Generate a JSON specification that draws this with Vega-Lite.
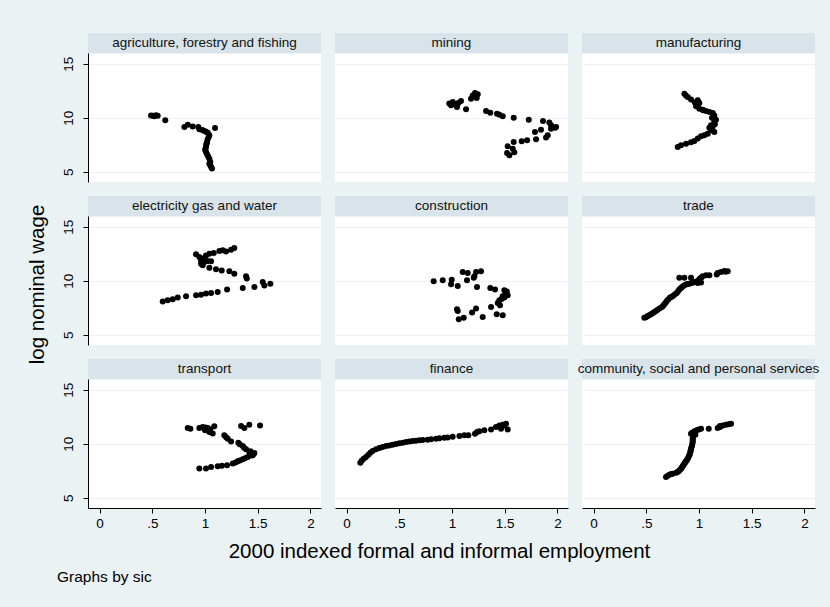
{
  "$schema": "https://vega.github.io/schema/vega-lite/v6.json",
  "background": "#EAF2F3",
  "padding": {"left": 27, "top": 33, "right": 10, "bottom": 22},
  "config": {
    "font": "Liberation Sans",
    "view": {"stroke": null, "fill": "white"},
    "axis": {"domainColor": "black", "tickColor": "black", "tickSize": 5, "labelFontSize": 13.5, "labelColor": "black", "titleFontSize": 20.5, "titleFontWeight": "normal", "titleColor": "black", "gridColor": "#EAF2F3", "gridWidth": 1},
    "axisX": {"grid": false, "labelPadding": 3, "titlePadding": 12},
    "axisY": {"labelAngle": 270, "labelPadding": 8, "titlePadding": 14}
  },
  "title": {"text": "Graphs by sic", "orient": "bottom", "anchor": "start", "fontSize": 15.5, "fontWeight": "normal", "color": "black", "offset": 8, "dx": 30},
  "data": {"values": [
    {"sic":"agriculture, forestry and fishing","emp":0.488,"lw":10.21},
    {"sic":"agriculture, forestry and fishing","emp":0.505,"lw":10.18},
    {"sic":"agriculture, forestry and fishing","emp":0.519,"lw":10.12},
    {"sic":"agriculture, forestry and fishing","emp":0.535,"lw":10.22},
    {"sic":"agriculture, forestry and fishing","emp":0.551,"lw":10.17},
    {"sic":"agriculture, forestry and fishing","emp":0.623,"lw":9.75},
    {"sic":"agriculture, forestry and fishing","emp":0.804,"lw":9.13},
    {"sic":"agriculture, forestry and fishing","emp":0.836,"lw":9.35},
    {"sic":"agriculture, forestry and fishing","emp":0.883,"lw":9.19},
    {"sic":"agriculture, forestry and fishing","emp":0.936,"lw":9.13},
    {"sic":"agriculture, forestry and fishing","emp":0.946,"lw":8.92},
    {"sic":"agriculture, forestry and fishing","emp":0.975,"lw":8.85},
    {"sic":"agriculture, forestry and fishing","emp":0.993,"lw":8.76},
    {"sic":"agriculture, forestry and fishing","emp":1.010,"lw":8.70},
    {"sic":"agriculture, forestry and fishing","emp":1.026,"lw":8.61},
    {"sic":"agriculture, forestry and fishing","emp":1.041,"lw":8.36},
    {"sic":"agriculture, forestry and fishing","emp":1.095,"lw":9.04},
    {"sic":"agriculture, forestry and fishing","emp":1.035,"lw":8.20},
    {"sic":"agriculture, forestry and fishing","emp":1.025,"lw":8.00},
    {"sic":"agriculture, forestry and fishing","emp":1.019,"lw":7.74},
    {"sic":"agriculture, forestry and fishing","emp":1.015,"lw":7.60},
    {"sic":"agriculture, forestry and fishing","emp":1.012,"lw":7.50},
    {"sic":"agriculture, forestry and fishing","emp":1.009,"lw":7.28},
    {"sic":"agriculture, forestry and fishing","emp":1.003,"lw":7.10},
    {"sic":"agriculture, forestry and fishing","emp":1.003,"lw":6.97},
    {"sic":"agriculture, forestry and fishing","emp":1.010,"lw":6.80},
    {"sic":"agriculture, forestry and fishing","emp":1.019,"lw":6.60},
    {"sic":"agriculture, forestry and fishing","emp":1.030,"lw":6.40},
    {"sic":"agriculture, forestry and fishing","emp":1.041,"lw":6.20},
    {"sic":"agriculture, forestry and fishing","emp":1.050,"lw":5.89},
    {"sic":"agriculture, forestry and fishing","emp":1.041,"lw":5.74},
    {"sic":"agriculture, forestry and fishing","emp":1.050,"lw":5.60},
    {"sic":"agriculture, forestry and fishing","emp":1.057,"lw":5.43},
    {"sic":"agriculture, forestry and fishing","emp":1.066,"lw":5.28},

    {"sic":"mining","emp":0.974,"lw":11.30},
    {"sic":"mining","emp":0.991,"lw":11.14},
    {"sic":"mining","emp":1.007,"lw":11.44},
    {"sic":"mining","emp":1.028,"lw":11.23},
    {"sic":"mining","emp":1.047,"lw":10.98},
    {"sic":"mining","emp":1.060,"lw":11.35},
    {"sic":"mining","emp":1.085,"lw":11.54},
    {"sic":"mining","emp":1.133,"lw":10.77},
    {"sic":"mining","emp":1.180,"lw":11.76},
    {"sic":"mining","emp":1.196,"lw":12.06},
    {"sic":"mining","emp":1.218,"lw":12.28},
    {"sic":"mining","emp":1.244,"lw":12.16},
    {"sic":"mining","emp":1.234,"lw":11.81},
    {"sic":"mining","emp":1.323,"lw":10.61},
    {"sic":"mining","emp":1.363,"lw":10.46},
    {"sic":"mining","emp":1.427,"lw":10.37},
    {"sic":"mining","emp":1.449,"lw":10.28},
    {"sic":"mining","emp":1.481,"lw":10.12},
    {"sic":"mining","emp":1.585,"lw":10.00},
    {"sic":"mining","emp":1.728,"lw":9.81},
    {"sic":"mining","emp":1.863,"lw":9.69},
    {"sic":"mining","emp":1.923,"lw":9.54},
    {"sic":"mining","emp":1.939,"lw":9.29},
    {"sic":"mining","emp":1.987,"lw":9.13},
    {"sic":"mining","emp":1.977,"lw":9.07},
    {"sic":"mining","emp":1.939,"lw":8.98},
    {"sic":"mining","emp":1.844,"lw":8.89},
    {"sic":"mining","emp":1.787,"lw":8.67},
    {"sic":"mining","emp":1.908,"lw":8.36},
    {"sic":"mining","emp":1.892,"lw":8.15},
    {"sic":"mining","emp":1.797,"lw":7.99},
    {"sic":"mining","emp":1.712,"lw":7.90},
    {"sic":"mining","emp":1.661,"lw":7.81},
    {"sic":"mining","emp":1.585,"lw":7.74},
    {"sic":"mining","emp":1.528,"lw":7.34},
    {"sic":"mining","emp":1.576,"lw":7.13},
    {"sic":"mining","emp":1.591,"lw":6.79},
    {"sic":"mining","emp":1.544,"lw":6.51},
    {"sic":"mining","emp":1.522,"lw":6.72},

    {"sic":"manufacturing","emp":0.861,"lw":12.22},
    {"sic":"manufacturing","emp":0.875,"lw":12.05},
    {"sic":"manufacturing","emp":0.893,"lw":11.91},
    {"sic":"manufacturing","emp":0.924,"lw":11.69},
    {"sic":"manufacturing","emp":0.988,"lw":11.60},
    {"sic":"manufacturing","emp":0.960,"lw":11.40},
    {"sic":"manufacturing","emp":1.003,"lw":11.35},
    {"sic":"manufacturing","emp":0.972,"lw":11.05},
    {"sic":"manufacturing","emp":1.003,"lw":10.83},
    {"sic":"manufacturing","emp":1.035,"lw":10.74},
    {"sic":"manufacturing","emp":1.040,"lw":10.68},
    {"sic":"manufacturing","emp":1.066,"lw":10.61},
    {"sic":"manufacturing","emp":1.098,"lw":10.52},
    {"sic":"manufacturing","emp":1.130,"lw":10.43},
    {"sic":"manufacturing","emp":1.145,"lw":10.21},
    {"sic":"manufacturing","emp":1.123,"lw":10.00},
    {"sic":"manufacturing","emp":1.140,"lw":9.95},
    {"sic":"manufacturing","emp":1.161,"lw":9.81},
    {"sic":"manufacturing","emp":1.145,"lw":9.59},
    {"sic":"manufacturing","emp":1.150,"lw":9.40},
    {"sic":"manufacturing","emp":1.114,"lw":9.29},
    {"sic":"manufacturing","emp":1.130,"lw":9.20},
    {"sic":"manufacturing","emp":1.098,"lw":9.07},
    {"sic":"manufacturing","emp":1.110,"lw":8.95},
    {"sic":"manufacturing","emp":1.130,"lw":8.82},
    {"sic":"manufacturing","emp":1.145,"lw":8.67},
    {"sic":"manufacturing","emp":1.083,"lw":8.52},
    {"sic":"manufacturing","emp":1.050,"lw":8.36},
    {"sic":"manufacturing","emp":1.019,"lw":8.27},
    {"sic":"manufacturing","emp":0.988,"lw":8.06},
    {"sic":"manufacturing","emp":0.955,"lw":7.83},
    {"sic":"manufacturing","emp":0.924,"lw":7.71},
    {"sic":"manufacturing","emp":0.877,"lw":7.59},
    {"sic":"manufacturing","emp":0.829,"lw":7.44},
    {"sic":"manufacturing","emp":0.798,"lw":7.28},

    {"sic":"electricity gas and water","emp":0.915,"lw":12.44},
    {"sic":"electricity gas and water","emp":0.946,"lw":12.19},
    {"sic":"electricity gas and water","emp":0.962,"lw":11.88},
    {"sic":"electricity gas and water","emp":0.978,"lw":12.04},
    {"sic":"electricity gas and water","emp":1.009,"lw":12.34},
    {"sic":"electricity gas and water","emp":1.041,"lw":12.50},
    {"sic":"electricity gas and water","emp":1.083,"lw":12.56},
    {"sic":"electricity gas and water","emp":1.136,"lw":12.74},
    {"sic":"electricity gas and water","emp":1.168,"lw":12.81},
    {"sic":"electricity gas and water","emp":1.199,"lw":12.71},
    {"sic":"electricity gas and water","emp":1.247,"lw":12.87},
    {"sic":"electricity gas and water","emp":1.278,"lw":13.02},
    {"sic":"electricity gas and water","emp":0.962,"lw":11.57},
    {"sic":"electricity gas and water","emp":0.993,"lw":11.72},
    {"sic":"electricity gas and water","emp":1.026,"lw":11.81},
    {"sic":"electricity gas and water","emp":1.057,"lw":11.79},
    {"sic":"electricity gas and water","emp":0.978,"lw":11.42},
    {"sic":"electricity gas and water","emp":1.041,"lw":11.20},
    {"sic":"electricity gas and water","emp":1.104,"lw":11.05},
    {"sic":"electricity gas and water","emp":1.158,"lw":10.95},
    {"sic":"electricity gas and water","emp":1.231,"lw":10.86},
    {"sic":"electricity gas and water","emp":1.278,"lw":10.65},
    {"sic":"electricity gas and water","emp":1.389,"lw":10.40},
    {"sic":"electricity gas and water","emp":1.396,"lw":10.19},
    {"sic":"electricity gas and water","emp":1.468,"lw":9.41},
    {"sic":"electricity gas and water","emp":1.547,"lw":9.87},
    {"sic":"electricity gas and water","emp":1.563,"lw":9.56},
    {"sic":"electricity gas and water","emp":1.620,"lw":9.72},
    {"sic":"electricity gas and water","emp":1.358,"lw":9.31},
    {"sic":"electricity gas and water","emp":1.209,"lw":9.17},
    {"sic":"electricity gas and water","emp":1.120,"lw":8.94},
    {"sic":"electricity gas and water","emp":1.057,"lw":8.85},
    {"sic":"electricity gas and water","emp":1.009,"lw":8.80},
    {"sic":"electricity gas and water","emp":0.962,"lw":8.70},
    {"sic":"electricity gas and water","emp":0.915,"lw":8.64},
    {"sic":"electricity gas and water","emp":0.820,"lw":8.55},
    {"sic":"electricity gas and water","emp":0.741,"lw":8.43},
    {"sic":"electricity gas and water","emp":0.694,"lw":8.27},
    {"sic":"electricity gas and water","emp":0.646,"lw":8.18},
    {"sic":"electricity gas and water","emp":0.599,"lw":8.08},

    {"sic":"construction","emp":0.826,"lw":9.94},
    {"sic":"construction","emp":0.912,"lw":10.03},
    {"sic":"construction","emp":0.997,"lw":10.09},
    {"sic":"construction","emp":0.991,"lw":9.66},
    {"sic":"construction","emp":1.054,"lw":9.50},
    {"sic":"construction","emp":1.101,"lw":10.80},
    {"sic":"construction","emp":1.149,"lw":10.70},
    {"sic":"construction","emp":1.142,"lw":10.03},
    {"sic":"construction","emp":1.212,"lw":10.40},
    {"sic":"construction","emp":1.228,"lw":10.80},
    {"sic":"construction","emp":1.275,"lw":10.86},
    {"sic":"construction","emp":1.206,"lw":10.28},
    {"sic":"construction","emp":1.237,"lw":9.41},
    {"sic":"construction","emp":1.363,"lw":9.31},
    {"sic":"construction","emp":1.408,"lw":9.19},
    {"sic":"construction","emp":1.496,"lw":9.10},
    {"sic":"construction","emp":1.510,"lw":8.85},
    {"sic":"construction","emp":1.520,"lw":9.00},
    {"sic":"construction","emp":1.528,"lw":8.64},
    {"sic":"construction","emp":1.480,"lw":8.55},
    {"sic":"construction","emp":1.496,"lw":8.43},
    {"sic":"construction","emp":1.470,"lw":8.30},
    {"sic":"construction","emp":1.449,"lw":8.18},
    {"sic":"construction","emp":1.434,"lw":7.93},
    {"sic":"construction","emp":1.455,"lw":7.71},
    {"sic":"construction","emp":1.370,"lw":7.56},
    {"sic":"construction","emp":1.424,"lw":6.88},
    {"sic":"construction","emp":1.481,"lw":6.79},
    {"sic":"construction","emp":1.291,"lw":6.63},
    {"sic":"construction","emp":1.228,"lw":7.41},
    {"sic":"construction","emp":1.190,"lw":7.06},
    {"sic":"construction","emp":1.111,"lw":6.57},
    {"sic":"construction","emp":1.064,"lw":6.42},
    {"sic":"construction","emp":1.047,"lw":7.34},
    {"sic":"construction","emp":1.054,"lw":7.19},

    {"sic":"trade","emp":0.481,"lw":6.57},
    {"sic":"trade","emp":0.497,"lw":6.62},
    {"sic":"trade","emp":0.513,"lw":6.72},
    {"sic":"trade","emp":0.528,"lw":6.80},
    {"sic":"trade","emp":0.544,"lw":6.88},
    {"sic":"trade","emp":0.560,"lw":6.98},
    {"sic":"trade","emp":0.576,"lw":7.09},
    {"sic":"trade","emp":0.592,"lw":7.20},
    {"sic":"trade","emp":0.608,"lw":7.31},
    {"sic":"trade","emp":0.628,"lw":7.44},
    {"sic":"trade","emp":0.649,"lw":7.56},
    {"sic":"trade","emp":0.660,"lw":7.68},
    {"sic":"trade","emp":0.671,"lw":7.81},
    {"sic":"trade","emp":0.683,"lw":7.96},
    {"sic":"trade","emp":0.694,"lw":8.11},
    {"sic":"trade","emp":0.710,"lw":8.27},
    {"sic":"trade","emp":0.726,"lw":8.43},
    {"sic":"trade","emp":0.741,"lw":8.52},
    {"sic":"trade","emp":0.756,"lw":8.61},
    {"sic":"trade","emp":0.772,"lw":8.73},
    {"sic":"trade","emp":0.788,"lw":8.85},
    {"sic":"trade","emp":0.800,"lw":9.00},
    {"sic":"trade","emp":0.813,"lw":9.17},
    {"sic":"trade","emp":0.826,"lw":9.29},
    {"sic":"trade","emp":0.839,"lw":9.41},
    {"sic":"trade","emp":0.855,"lw":9.52},
    {"sic":"trade","emp":0.870,"lw":9.63},
    {"sic":"trade","emp":0.890,"lw":9.68},
    {"sic":"trade","emp":0.908,"lw":9.72},
    {"sic":"trade","emp":0.927,"lw":9.78},
    {"sic":"trade","emp":0.946,"lw":9.84},
    {"sic":"trade","emp":0.967,"lw":9.90},
    {"sic":"trade","emp":0.988,"lw":9.96},
    {"sic":"trade","emp":0.988,"lw":9.78},
    {"sic":"trade","emp":1.019,"lw":9.84},
    {"sic":"trade","emp":1.000,"lw":10.08},
    {"sic":"trade","emp":1.009,"lw":10.19},
    {"sic":"trade","emp":1.022,"lw":10.30},
    {"sic":"trade","emp":1.035,"lw":10.40},
    {"sic":"trade","emp":1.066,"lw":10.49},
    {"sic":"trade","emp":1.098,"lw":10.49},
    {"sic":"trade","emp":0.813,"lw":10.28},
    {"sic":"trade","emp":0.861,"lw":10.28},
    {"sic":"trade","emp":0.924,"lw":10.28},
    {"sic":"trade","emp":1.168,"lw":10.58},
    {"sic":"trade","emp":1.177,"lw":10.70},
    {"sic":"trade","emp":1.208,"lw":10.80},
    {"sic":"trade","emp":1.240,"lw":10.89},
    {"sic":"trade","emp":1.250,"lw":10.82},
    {"sic":"trade","emp":1.272,"lw":10.86},

    {"sic":"transport","emp":0.836,"lw":11.44},
    {"sic":"transport","emp":0.861,"lw":11.39},
    {"sic":"transport","emp":0.946,"lw":11.44},
    {"sic":"transport","emp":0.978,"lw":11.54},
    {"sic":"transport","emp":1.000,"lw":11.23},
    {"sic":"transport","emp":1.005,"lw":11.50},
    {"sic":"transport","emp":1.026,"lw":11.44},
    {"sic":"transport","emp":1.041,"lw":11.07},
    {"sic":"transport","emp":1.050,"lw":11.30},
    {"sic":"transport","emp":1.073,"lw":10.93},
    {"sic":"transport","emp":1.088,"lw":11.60},
    {"sic":"transport","emp":1.183,"lw":10.77},
    {"sic":"transport","emp":1.200,"lw":10.60},
    {"sic":"transport","emp":1.215,"lw":10.46},
    {"sic":"transport","emp":1.247,"lw":10.21},
    {"sic":"transport","emp":1.316,"lw":10.09},
    {"sic":"transport","emp":1.330,"lw":9.95},
    {"sic":"transport","emp":1.358,"lw":9.78},
    {"sic":"transport","emp":1.370,"lw":9.62},
    {"sic":"transport","emp":1.389,"lw":9.47},
    {"sic":"transport","emp":1.430,"lw":9.30},
    {"sic":"transport","emp":1.420,"lw":9.22},
    {"sic":"transport","emp":1.468,"lw":9.13},
    {"sic":"transport","emp":1.460,"lw":9.05},
    {"sic":"transport","emp":1.453,"lw":8.92},
    {"sic":"transport","emp":1.440,"lw":8.90},
    {"sic":"transport","emp":1.342,"lw":11.63},
    {"sic":"transport","emp":1.373,"lw":11.44},
    {"sic":"transport","emp":1.420,"lw":11.76},
    {"sic":"transport","emp":1.522,"lw":11.69},
    {"sic":"transport","emp":1.405,"lw":8.76},
    {"sic":"transport","emp":1.380,"lw":8.65},
    {"sic":"transport","emp":1.358,"lw":8.55},
    {"sic":"transport","emp":1.330,"lw":8.45},
    {"sic":"transport","emp":1.310,"lw":8.36},
    {"sic":"transport","emp":1.290,"lw":8.25},
    {"sic":"transport","emp":1.263,"lw":8.15},
    {"sic":"transport","emp":1.209,"lw":7.99},
    {"sic":"transport","emp":1.160,"lw":7.95},
    {"sic":"transport","emp":1.120,"lw":7.90},
    {"sic":"transport","emp":1.057,"lw":7.83},
    {"sic":"transport","emp":1.009,"lw":7.69},
    {"sic":"transport","emp":0.946,"lw":7.69},

    {"sic":"finance","emp":0.130,"lw":8.24},
    {"sic":"finance","emp":0.143,"lw":8.42},
    {"sic":"finance","emp":0.162,"lw":8.61},
    {"sic":"finance","emp":0.184,"lw":8.76},
    {"sic":"finance","emp":0.206,"lw":8.98},
    {"sic":"finance","emp":0.225,"lw":9.16},
    {"sic":"finance","emp":0.247,"lw":9.32},
    {"sic":"finance","emp":0.279,"lw":9.47},
    {"sic":"finance","emp":0.311,"lw":9.60},
    {"sic":"finance","emp":0.342,"lw":9.69},
    {"sic":"finance","emp":0.374,"lw":9.78},
    {"sic":"finance","emp":0.405,"lw":9.84},
    {"sic":"finance","emp":0.437,"lw":9.90},
    {"sic":"finance","emp":0.469,"lw":9.97},
    {"sic":"finance","emp":0.500,"lw":10.03},
    {"sic":"finance","emp":0.532,"lw":10.09},
    {"sic":"finance","emp":0.564,"lw":10.15},
    {"sic":"finance","emp":0.595,"lw":10.21},
    {"sic":"finance","emp":0.627,"lw":10.24},
    {"sic":"finance","emp":0.658,"lw":10.28},
    {"sic":"finance","emp":0.690,"lw":10.31},
    {"sic":"finance","emp":0.722,"lw":10.34},
    {"sic":"finance","emp":0.769,"lw":10.37},
    {"sic":"finance","emp":0.801,"lw":10.40},
    {"sic":"finance","emp":0.848,"lw":10.46},
    {"sic":"finance","emp":0.880,"lw":10.49},
    {"sic":"finance","emp":0.927,"lw":10.55},
    {"sic":"finance","emp":0.959,"lw":10.58},
    {"sic":"finance","emp":1.006,"lw":10.65},
    {"sic":"finance","emp":1.070,"lw":10.71},
    {"sic":"finance","emp":1.117,"lw":10.77},
    {"sic":"finance","emp":1.155,"lw":10.77},
    {"sic":"finance","emp":1.218,"lw":10.92},
    {"sic":"finance","emp":1.237,"lw":11.08},
    {"sic":"finance","emp":1.259,"lw":11.14},
    {"sic":"finance","emp":1.307,"lw":11.23},
    {"sic":"finance","emp":1.370,"lw":11.32},
    {"sic":"finance","emp":1.417,"lw":11.54},
    {"sic":"finance","emp":1.449,"lw":11.69},
    {"sic":"finance","emp":1.481,"lw":11.76},
    {"sic":"finance","emp":1.497,"lw":11.69},
    {"sic":"finance","emp":1.465,"lw":11.39},
    {"sic":"finance","emp":1.528,"lw":11.32},
    {"sic":"finance","emp":1.512,"lw":11.85},

    {"sic":"community, social and personal services","emp":0.687,"lw":6.91},
    {"sic":"community, social and personal services","emp":0.700,"lw":7.00},
    {"sic":"community, social and personal services","emp":0.719,"lw":7.13},
    {"sic":"community, social and personal services","emp":0.735,"lw":7.18},
    {"sic":"community, social and personal services","emp":0.750,"lw":7.22},
    {"sic":"community, social and personal services","emp":0.782,"lw":7.31},
    {"sic":"community, social and personal services","emp":0.795,"lw":7.38},
    {"sic":"community, social and personal services","emp":0.807,"lw":7.44},
    {"sic":"community, social and personal services","emp":0.818,"lw":7.56},
    {"sic":"community, social and personal services","emp":0.829,"lw":7.68},
    {"sic":"community, social and personal services","emp":0.837,"lw":7.79},
    {"sic":"community, social and personal services","emp":0.845,"lw":7.90},
    {"sic":"community, social and personal services","emp":0.853,"lw":8.02},
    {"sic":"community, social and personal services","emp":0.861,"lw":8.15},
    {"sic":"community, social and personal services","emp":0.869,"lw":8.25},
    {"sic":"community, social and personal services","emp":0.877,"lw":8.36},
    {"sic":"community, social and personal services","emp":0.885,"lw":8.48},
    {"sic":"community, social and personal services","emp":0.893,"lw":8.61},
    {"sic":"community, social and personal services","emp":0.900,"lw":8.76},
    {"sic":"community, social and personal services","emp":0.908,"lw":8.92},
    {"sic":"community, social and personal services","emp":0.913,"lw":9.07},
    {"sic":"community, social and personal services","emp":0.918,"lw":9.23},
    {"sic":"community, social and personal services","emp":0.921,"lw":9.38},
    {"sic":"community, social and personal services","emp":0.924,"lw":9.53},
    {"sic":"community, social and personal services","emp":0.929,"lw":9.68},
    {"sic":"community, social and personal services","emp":0.934,"lw":9.84},
    {"sic":"community, social and personal services","emp":0.937,"lw":10.00},
    {"sic":"community, social and personal services","emp":0.940,"lw":10.15},
    {"sic":"community, social and personal services","emp":0.940,"lw":10.30},
    {"sic":"community, social and personal services","emp":0.940,"lw":10.46},
    {"sic":"community, social and personal services","emp":0.943,"lw":10.62},
    {"sic":"community, social and personal services","emp":0.946,"lw":10.77},
    {"sic":"community, social and personal services","emp":0.965,"lw":10.83},
    {"sic":"community, social and personal services","emp":0.924,"lw":10.92},
    {"sic":"community, social and personal services","emp":0.950,"lw":10.95},
    {"sic":"community, social and personal services","emp":0.934,"lw":11.02},
    {"sic":"community, social and personal services","emp":0.956,"lw":11.14},
    {"sic":"community, social and personal services","emp":0.978,"lw":11.23},
    {"sic":"community, social and personal services","emp":0.997,"lw":11.32},
    {"sic":"community, social and personal services","emp":1.019,"lw":11.39},
    {"sic":"community, social and personal services","emp":1.092,"lw":11.39},
    {"sic":"community, social and personal services","emp":1.177,"lw":11.45},
    {"sic":"community, social and personal services","emp":1.199,"lw":11.63},
    {"sic":"community, social and personal services","emp":1.200,"lw":11.55},
    {"sic":"community, social and personal services","emp":1.225,"lw":11.69},
    {"sic":"community, social and personal services","emp":1.256,"lw":11.76},
    {"sic":"community, social and personal services","emp":1.280,"lw":11.80},
    {"sic":"community, social and personal services","emp":1.304,"lw":11.85}
  ]},
  "columns": 3,
  "spacing": 14,
  "bounds": "flush",
  "align": "all",
  "concat": [
    {"transform": [{"filter": "datum.sic == 'agriculture, forestry and fishing'"}], "width": 233, "height": 149, "layer": [
      {"transform": [{"aggregate": [{"op": "count", "as": "n"}], "groupby": ["sic"]}], "mark": {"type": "rect", "color": "#D8E4E9"}, "encoding": {"x": {"datum": -0.11, "axis": null}, "x2": {"datum": 2.1}, "y": {"datum": 15.93}, "y2": {"datum": 17.84}}},
      {"transform": [{"aggregate": [{"op": "count", "as": "n"}], "groupby": ["sic"]}], "mark": {"type": "text", "fontSize": 13.5, "color": "#111111", "baseline": "middle", "align": "center"}, "encoding": {"x": {"datum": 0.995, "axis": null}, "y": {"datum": 16.9}, "text": {"field": "sic"}}},
      {"mark": {"type": "circle", "color": "black", "opacity": 1, "size": 36}, "encoding": {
        "x": {"field": "emp", "type": "quantitative", "scale": {"domain": [-0.11, 2.1], "nice": false, "zero": false}, "axis": null},
        "y": {"field": "lw", "type": "quantitative", "scale": {"domain": [4.04, 17.84], "nice": false, "zero": false}, "axis": {"values": [5, 10, 15], "grid": true, "title": null}}
      }}
    ]},
    {"transform": [{"filter": "datum.sic == 'mining'"}], "width": 233, "height": 149, "layer": [
      {"transform": [{"aggregate": [{"op": "count", "as": "n"}], "groupby": ["sic"]}], "mark": {"type": "rect", "color": "#D8E4E9"}, "encoding": {"x": {"datum": -0.11, "axis": null}, "x2": {"datum": 2.1}, "y": {"datum": 15.93}, "y2": {"datum": 17.84}}},
      {"transform": [{"aggregate": [{"op": "count", "as": "n"}], "groupby": ["sic"]}], "mark": {"type": "text", "fontSize": 13.5, "color": "#111111", "baseline": "middle", "align": "center"}, "encoding": {"x": {"datum": 0.995, "axis": null}, "y": {"datum": 16.9}, "text": {"field": "sic"}}},
      {"mark": {"type": "circle", "color": "black", "opacity": 1, "size": 36}, "encoding": {
        "x": {"field": "emp", "type": "quantitative", "scale": {"domain": [-0.11, 2.1], "nice": false, "zero": false}, "axis": null},
        "y": {"field": "lw", "type": "quantitative", "scale": {"domain": [4.04, 17.84], "nice": false, "zero": false}, "axis": {"values": [5, 10, 15], "grid": true, "domain": false, "ticks": false, "labels": false, "title": null}}
      }}
    ]},
    {"transform": [{"filter": "datum.sic == 'manufacturing'"}], "width": 233, "height": 149, "layer": [
      {"transform": [{"aggregate": [{"op": "count", "as": "n"}], "groupby": ["sic"]}], "mark": {"type": "rect", "color": "#D8E4E9"}, "encoding": {"x": {"datum": -0.11, "axis": null}, "x2": {"datum": 2.1}, "y": {"datum": 15.93}, "y2": {"datum": 17.84}}},
      {"transform": [{"aggregate": [{"op": "count", "as": "n"}], "groupby": ["sic"]}], "mark": {"type": "text", "fontSize": 13.5, "color": "#111111", "baseline": "middle", "align": "center"}, "encoding": {"x": {"datum": 0.995, "axis": null}, "y": {"datum": 16.9}, "text": {"field": "sic"}}},
      {"mark": {"type": "circle", "color": "black", "opacity": 1, "size": 36}, "encoding": {
        "x": {"field": "emp", "type": "quantitative", "scale": {"domain": [-0.11, 2.1], "nice": false, "zero": false}, "axis": null},
        "y": {"field": "lw", "type": "quantitative", "scale": {"domain": [4.04, 17.84], "nice": false, "zero": false}, "axis": {"values": [5, 10, 15], "grid": true, "domain": false, "ticks": false, "labels": false, "title": null}}
      }}
    ]},
    {"transform": [{"filter": "datum.sic == 'electricity gas and water'"}], "width": 233, "height": 149, "layer": [
      {"transform": [{"aggregate": [{"op": "count", "as": "n"}], "groupby": ["sic"]}], "mark": {"type": "rect", "color": "#D8E4E9"}, "encoding": {"x": {"datum": -0.11, "axis": null}, "x2": {"datum": 2.1}, "y": {"datum": 15.93}, "y2": {"datum": 17.84}}},
      {"transform": [{"aggregate": [{"op": "count", "as": "n"}], "groupby": ["sic"]}], "mark": {"type": "text", "fontSize": 13.5, "color": "#111111", "baseline": "middle", "align": "center"}, "encoding": {"x": {"datum": 0.995, "axis": null}, "y": {"datum": 16.9}, "text": {"field": "sic"}}},
      {"mark": {"type": "circle", "color": "black", "opacity": 1, "size": 36}, "encoding": {
        "x": {"field": "emp", "type": "quantitative", "scale": {"domain": [-0.11, 2.1], "nice": false, "zero": false}, "axis": null},
        "y": {"field": "lw", "type": "quantitative", "scale": {"domain": [4.04, 17.84], "nice": false, "zero": false}, "axis": {"values": [5, 10, 15], "grid": true, "title": "log nominal wage", "titleY": 88}}
      }}
    ]},
    {"transform": [{"filter": "datum.sic == 'construction'"}], "width": 233, "height": 149, "layer": [
      {"transform": [{"aggregate": [{"op": "count", "as": "n"}], "groupby": ["sic"]}], "mark": {"type": "rect", "color": "#D8E4E9"}, "encoding": {"x": {"datum": -0.11, "axis": null}, "x2": {"datum": 2.1}, "y": {"datum": 15.93}, "y2": {"datum": 17.84}}},
      {"transform": [{"aggregate": [{"op": "count", "as": "n"}], "groupby": ["sic"]}], "mark": {"type": "text", "fontSize": 13.5, "color": "#111111", "baseline": "middle", "align": "center"}, "encoding": {"x": {"datum": 0.995, "axis": null}, "y": {"datum": 16.9}, "text": {"field": "sic"}}},
      {"mark": {"type": "circle", "color": "black", "opacity": 1, "size": 36}, "encoding": {
        "x": {"field": "emp", "type": "quantitative", "scale": {"domain": [-0.11, 2.1], "nice": false, "zero": false}, "axis": null},
        "y": {"field": "lw", "type": "quantitative", "scale": {"domain": [4.04, 17.84], "nice": false, "zero": false}, "axis": {"values": [5, 10, 15], "grid": true, "domain": false, "ticks": false, "labels": false, "title": null}}
      }}
    ]},
    {"transform": [{"filter": "datum.sic == 'trade'"}], "width": 233, "height": 149, "layer": [
      {"transform": [{"aggregate": [{"op": "count", "as": "n"}], "groupby": ["sic"]}], "mark": {"type": "rect", "color": "#D8E4E9"}, "encoding": {"x": {"datum": -0.11, "axis": null}, "x2": {"datum": 2.1}, "y": {"datum": 15.93}, "y2": {"datum": 17.84}}},
      {"transform": [{"aggregate": [{"op": "count", "as": "n"}], "groupby": ["sic"]}], "mark": {"type": "text", "fontSize": 13.5, "color": "#111111", "baseline": "middle", "align": "center"}, "encoding": {"x": {"datum": 0.995, "axis": null}, "y": {"datum": 16.9}, "text": {"field": "sic"}}},
      {"mark": {"type": "circle", "color": "black", "opacity": 1, "size": 36}, "encoding": {
        "x": {"field": "emp", "type": "quantitative", "scale": {"domain": [-0.11, 2.1], "nice": false, "zero": false}, "axis": null},
        "y": {"field": "lw", "type": "quantitative", "scale": {"domain": [4.04, 17.84], "nice": false, "zero": false}, "axis": {"values": [5, 10, 15], "grid": true, "domain": false, "ticks": false, "labels": false, "title": null}}
      }}
    ]},
    {"transform": [{"filter": "datum.sic == 'transport'"}], "width": 233, "height": 149, "layer": [
      {"transform": [{"aggregate": [{"op": "count", "as": "n"}], "groupby": ["sic"]}], "mark": {"type": "rect", "color": "#D8E4E9"}, "encoding": {"x": {"datum": -0.11}, "x2": {"datum": 2.1}, "y": {"datum": 15.93}, "y2": {"datum": 17.84}}},
      {"transform": [{"aggregate": [{"op": "count", "as": "n"}], "groupby": ["sic"]}], "mark": {"type": "text", "fontSize": 13.5, "color": "#111111", "baseline": "middle", "align": "center"}, "encoding": {"x": {"datum": 0.995}, "y": {"datum": 16.9}, "text": {"field": "sic"}}},
      {"mark": {"type": "circle", "color": "black", "opacity": 1, "size": 36}, "encoding": {
        "x": {"field": "emp", "type": "quantitative", "scale": {"domain": [-0.11, 2.1], "nice": false, "zero": false}, "axis": {"values": [0, 0.5, 1, 1.5, 2], "labelExpr": "datum.value == 0.5 ? '.5' : toString(datum.value)", "title": null}},
        "y": {"field": "lw", "type": "quantitative", "scale": {"domain": [4.04, 17.84], "nice": false, "zero": false}, "axis": {"values": [5, 10, 15], "grid": true, "title": null}}
      }}
    ]},
    {"transform": [{"filter": "datum.sic == 'finance'"}], "width": 233, "height": 149, "layer": [
      {"transform": [{"aggregate": [{"op": "count", "as": "n"}], "groupby": ["sic"]}], "mark": {"type": "rect", "color": "#D8E4E9"}, "encoding": {"x": {"datum": -0.11}, "x2": {"datum": 2.1}, "y": {"datum": 15.93}, "y2": {"datum": 17.84}}},
      {"transform": [{"aggregate": [{"op": "count", "as": "n"}], "groupby": ["sic"]}], "mark": {"type": "text", "fontSize": 13.5, "color": "#111111", "baseline": "middle", "align": "center"}, "encoding": {"x": {"datum": 0.995}, "y": {"datum": 16.9}, "text": {"field": "sic"}}},
      {"mark": {"type": "circle", "color": "black", "opacity": 1, "size": 36}, "encoding": {
        "x": {"field": "emp", "type": "quantitative", "scale": {"domain": [-0.11, 2.1], "nice": false, "zero": false}, "axis": {"values": [0, 0.5, 1, 1.5, 2], "labelExpr": "datum.value == 0.5 ? '.5' : toString(datum.value)", "title": "2000 indexed formal and informal employment", "titleX": 104}},
        "y": {"field": "lw", "type": "quantitative", "scale": {"domain": [4.04, 17.84], "nice": false, "zero": false}, "axis": {"values": [5, 10, 15], "grid": true, "domain": false, "ticks": false, "labels": false, "title": null}}
      }}
    ]},
    {"transform": [{"filter": "datum.sic == 'community, social and personal services'"}], "width": 233, "height": 149, "layer": [
      {"transform": [{"aggregate": [{"op": "count", "as": "n"}], "groupby": ["sic"]}], "mark": {"type": "rect", "color": "#D8E4E9"}, "encoding": {"x": {"datum": -0.11}, "x2": {"datum": 2.1}, "y": {"datum": 15.93}, "y2": {"datum": 17.84}}},
      {"transform": [{"aggregate": [{"op": "count", "as": "n"}], "groupby": ["sic"]}], "mark": {"type": "text", "fontSize": 13.5, "color": "#111111", "baseline": "middle", "align": "center"}, "encoding": {"x": {"datum": 0.995}, "y": {"datum": 16.9}, "text": {"field": "sic"}}},
      {"mark": {"type": "circle", "color": "black", "opacity": 1, "size": 36}, "encoding": {
        "x": {"field": "emp", "type": "quantitative", "scale": {"domain": [-0.11, 2.1], "nice": false, "zero": false}, "axis": {"values": [0, 0.5, 1, 1.5, 2], "labelExpr": "datum.value == 0.5 ? '.5' : toString(datum.value)", "title": null}},
        "y": {"field": "lw", "type": "quantitative", "scale": {"domain": [4.04, 17.84], "nice": false, "zero": false}, "axis": {"values": [5, 10, 15], "grid": true, "domain": false, "ticks": false, "labels": false, "title": null}}
      }}
    ]}
  ]
}
